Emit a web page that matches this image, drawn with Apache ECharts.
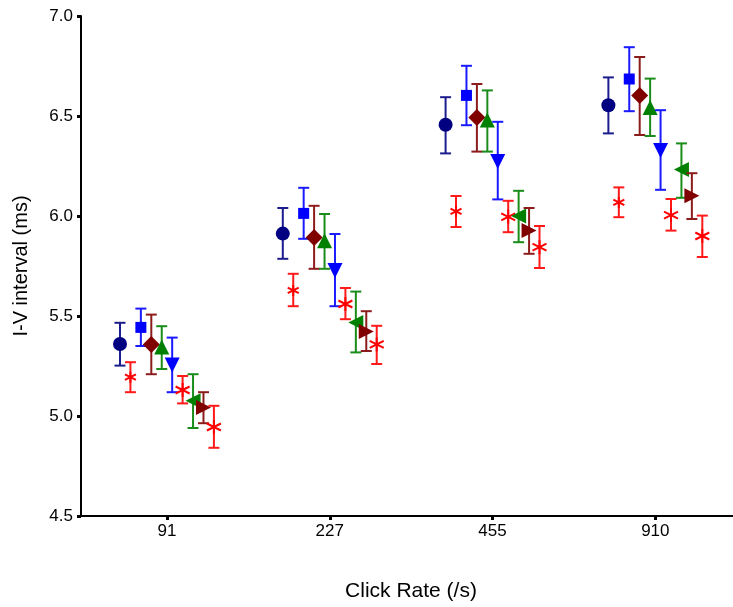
<!DOCTYPE html>
<html>
<head>
<meta charset="utf-8">
<script src="https://cdn.jsdelivr.net/npm/echarts@6/dist/echarts.min.js"></script>
<style>
  html, body { margin: 0; padding: 0; background: #fff; }
  #chart { width: 733px; height: 607px; }
</style>
</head>
<body>
<div id="chart"></div>
<script>
// Click rates shown on the category axis
const clickRates = ['91', '227', '455', '910'];
const yTicks = [4.5, 5.0, 5.5, 6.0, 6.5, 7.0];

// Means and error-bar limits (ms), one value per click rate
const circleMean = [5.36, 5.912, 6.456, 6.554];
const circleHigh = [5.466, 6.040, 6.594, 6.693];
const circleLow  = [5.252, 5.786, 6.313, 6.413];

const starAMean = [5.194, 5.628, 6.023, 6.068];
const starAHigh = [5.269, 5.711, 6.100, 6.143];
const starALow  = [5.119, 5.549, 5.945, 5.994];

const squareMean = [5.443, 6.013, 6.603, 6.685];
const squareHigh = [5.537, 6.141, 6.751, 6.844];
const squareLow  = [5.350, 5.886, 6.454, 6.524];

const diamondMean = [5.358, 5.893, 6.492, 6.602];
const diamondHigh = [5.507, 6.051, 6.660, 6.795];
const diamondLow  = [5.209, 5.736, 6.322, 6.405];

const upMean = [5.345, 5.876, 6.480, 6.543];
const upHigh = [5.449, 6.010, 6.628, 6.687];
const upLow  = [5.235, 5.736, 6.322, 6.400];

const downMean = [5.255, 5.727, 6.272, 6.327];
const downHigh = [5.392, 5.910, 6.471, 6.529];
const downLow  = [5.119, 5.549, 6.083, 6.131];

const starBMean = [5.130, 5.560, 5.996, 6.004];
const starBHigh = [5.200, 5.640, 6.076, 6.085];
const starBLow  = [5.063, 5.484, 5.919, 5.927];

const leftMean = [5.076, 5.468, 6.000, 6.232];
const leftHigh = [5.209, 5.622, 6.126, 6.363];
const leftLow  = [4.940, 5.318, 5.869, 6.091];

const rightMean = [5.043, 5.423, 5.927, 6.101];
const rightHigh = [5.119, 5.524, 6.040, 6.214];
const rightLow  = [4.964, 5.325, 5.811, 5.985];

const starCMean = [4.945, 5.358, 5.844, 5.900];
const starCHigh = [5.051, 5.451, 5.950, 6.002];
const starCLow  = [4.841, 5.260, 5.740, 5.795];

// Six-armed asterisk marker
const STAR = 'path://M7,0L7,14M0.94,3.5L13.06,10.5M0.94,10.5L13.06,3.5';

const groups = [
  { name: 'circle',  mean: circleMean,  high: circleHigh,  low: circleLow,  color: '#000080', bar: '#1c1c8e', symbol: 'circle',   size: 14 },
  { name: 'starA',   mean: starAMean,   high: starAHigh,   low: starALow,   color: '#ff0000', bar: '#ff1a1a', symbol: STAR,       size: 11, stroke: true },
  { name: 'square',  mean: squareMean,  high: squareHigh,  low: squareLow,  color: '#0000ff', bar: '#1a1aff', symbol: 'rect',     size: 11 },
  { name: 'diamond', mean: diamondMean, high: diamondHigh, low: diamondLow, color: '#800000', bar: '#8c1c1c', symbol: 'diamond',  size: 17 },
  { name: 'up',      mean: upMean,      high: upHigh,      low: upLow,      color: '#008000', bar: '#1a8c1a', symbol: 'triangle', size: [15, 15] },
  { name: 'down',    mean: downMean,    high: downHigh,    low: downLow,    color: '#0000ff', bar: '#1a1aff', symbol: 'triangle', size: [15, 15], rotate: 180 },
  { name: 'starB',   mean: starBMean,   high: starBHigh,   low: starBLow,   color: '#ff0000', bar: '#ff1a1a', symbol: STAR,       size: 14, stroke: true },
  { name: 'left',    mean: leftMean,    high: leftHigh,    low: leftLow,    color: '#008000', bar: '#1a8c1a', symbol: 'triangle', size: [15, 15], rotate: 90 },
  { name: 'right',   mean: rightMean,   high: rightHigh,   low: rightLow,   color: '#800000', bar: '#8c1c1c', symbol: 'triangle', size: [15, 15], rotate: -90 },
  { name: 'starC',   mean: starCMean,   high: starCHigh,   low: starCLow,   color: '#ff0000', bar: '#ff1a1a', symbol: STAR,       size: 14, stroke: true }
];

// Horizontal spread of the ten markers inside each click-rate cluster
const clusterStep = 0.0641;
const offsetOf = (i) => (i - (groups.length - 1) / 2) * clusterStep;

const TICK_FONT = '"Liberation Sans", Arial, sans-serif';
const TITLE_FONT = '"Liberation Sans", Arial, sans-serif';

const series = [];
groups.forEach((g, i) => {
  const off = offsetOf(i);
  series.push({
    type: 'custom',
    name: g.name + '-err',
    z: 2 + i * 2,
    silent: true,
    data: g.mean.map((m, k) => [k + 1 + off, g.high[k], g.low[k]]),
    renderItem: (params, api) => {
      const x = api.value(0);
      const top = api.coord([x, api.value(1)]);
      const bot = api.coord([x, api.value(2)]);
      const half = 5.5;
      const style = { stroke: g.bar, lineWidth: 2 };
      return {
        type: 'group',
        children: [
          { type: 'line', shape: { x1: top[0], y1: top[1], x2: bot[0], y2: bot[1] }, style },
          { type: 'line', shape: { x1: top[0] - half, y1: top[1], x2: top[0] + half, y2: top[1] }, style },
          { type: 'line', shape: { x1: bot[0] - half, y1: bot[1], x2: bot[0] + half, y2: bot[1] }, style }
        ]
      };
    }
  });
  series.push({
    type: 'scatter',
    name: g.name,
    z: 3 + i * 2,
    silent: true,
    symbol: g.symbol,
    symbolSize: g.size,
    symbolRotate: g.rotate || 0,
    itemStyle: g.stroke
      ? { color: 'rgba(0,0,0,0)', borderColor: g.color, borderWidth: 2, opacity: 1 }
      : { color: g.color, opacity: 1 },
    data: g.mean.map((m, k) => [k + 1 + off, m])
  });
});

const chart = echarts.init(document.getElementById('chart'), null, { renderer: 'canvas' });
chart.setOption({
  animation: false,
  backgroundColor: '#ffffff',
  grid: { left: 81, right: 0, top: 16, bottom: 88.5, containLabel: false },
  xAxis: {
    type: 'value',
    min: 0.472,
    max: 4.477,
    splitLine: { show: false },
    axisLine: { onZero: false, lineStyle: { color: '#000', width: 2 } },
    axisTick: { show: true, customValues: [1, 2, 3, 4], length: 4, lineStyle: { color: '#000', width: 3 } },
    axisLabel: {
      customValues: [1, 2, 3, 4],
      formatter: (v) => clickRates[Math.round(v) - 1],
      color: '#000', fontFamily: TICK_FONT, fontSize: 17, margin: 7
    },
    name: 'Click Rate (/s)',
    nameLocation: 'middle',
    nameGap: 65,
    nameTextStyle: { color: '#000', fontFamily: TITLE_FONT, fontSize: 21, padding: [0, 0, 0, 8] }
  },
  yAxis: {
    type: 'value',
    min: yTicks[0],
    max: yTicks[yTicks.length - 1],
    interval: 0.5,
    splitLine: { show: false },
    axisLine: { show: true, lineStyle: { color: '#000', width: 2 } },
    axisTick: { show: true, length: 4, lineStyle: { color: '#000', width: 3 } },
    axisLabel: {
      formatter: (v) => v.toFixed(1),
      color: '#000', fontFamily: TICK_FONT, fontSize: 17, margin: 8
    },
    name: 'I-V interval (ms)',
    nameLocation: 'middle',
    nameGap: 50,
    nameTextStyle: { color: '#000', fontFamily: TITLE_FONT, fontSize: 20 }
  },
  series
});
</script>
</body>
</html>
